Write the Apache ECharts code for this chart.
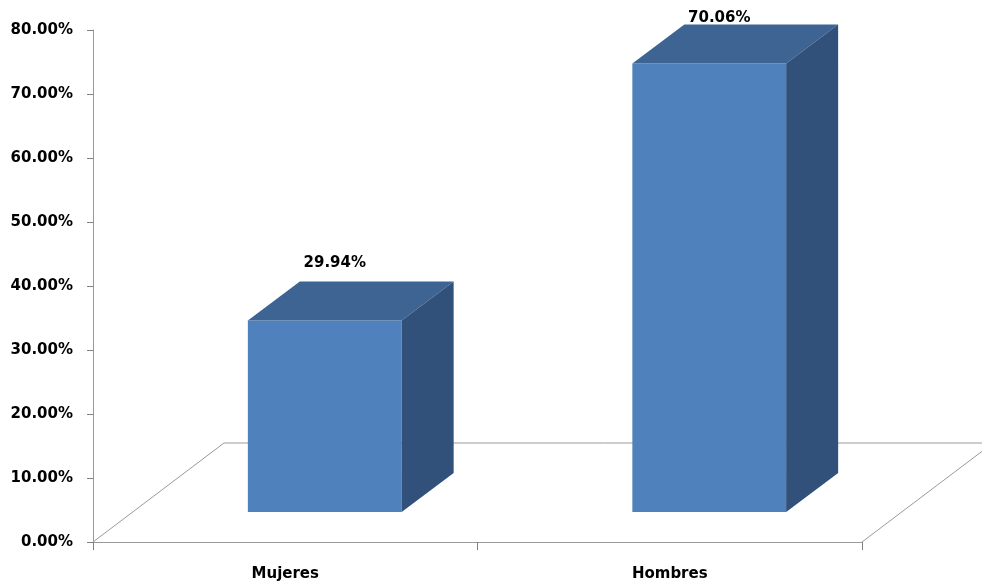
<!DOCTYPE html>
<html lang="es">
<head>
  <meta charset="UTF-8">
  <title>Mujeres / Hombres</title>
  <style>
    * { margin: 0; padding: 0; }
    html, body { background: #ffffff; }
    #main { width: 982px; height: 586px; }
  </style>
</head>
<body>
  <div id="main"></div>

  <script src="https://cdn.jsdelivr.net/npm/echarts@6/dist/echarts.min.js"></script>
  <script type="text/javascript">
  // datos del grafico
  var categorias = ['Mujeres', 'Hombres'];
  var porcentajes = [29.94, 70.06];
  var ejeMin = 0;
  var ejeMax = 80;
  var ejeIntervalo = 10;

  // aspecto 3D (pixeles)
  var FONDO_DX = 131, FONDO_DY = -99;   // profundidad del suelo
  var BARRA_DX = 52, BARRA_DY = -39;    // profundidad de cada barra
  var colorFrente = '#4f81bd';
  var colorTapa = '#3d6493';
  var colorLado = '#31507a';
  var colorLinea = '#9a9a9a';
  var fuente = 'DejaVu Sans';

  var myChart = echarts.init(document.getElementById('main'));

  function renderBarra(params, api) {
    var idx = api.value(0);
    var val = api.value(1);
    var base = api.coord([idx, 0]);
    var tope = api.coord([idx, val]);
    var banda = api.size([1, 0])[0];
    var ancho = banda * 0.4;

    // la barra va centrada en la profundidad del suelo
    var ox = (FONDO_DX - BARRA_DX) / 2;
    var oy = (FONDO_DY - BARRA_DY) / 2;
    var x0 = base[0] - ancho / 2 + ox;
    var x1 = x0 + ancho;
    var yb = base[1] + oy;
    var yt = tope[1] + oy;

    var hijos = [];

    if (params.dataIndex === 0) {
      // suelo: diagonal izquierda, borde de fondo y diagonal derecha
      var izq = base[0] - banda / 2;
      var der = izq + banda * categorias.length;
      var y0 = base[1];
      var lineas = [
        [izq, y0, izq + FONDO_DX, y0 + FONDO_DY],
        [izq + FONDO_DX, y0 + FONDO_DY, der + FONDO_DX, y0 + FONDO_DY],
        [der, y0, der + FONDO_DX, y0 + FONDO_DY]
      ];
      lineas.forEach(function (l) {
        hijos.push({
          type: 'line',
          shape: { x1: l[0], y1: l[1], x2: l[2], y2: l[3] },
          style: { stroke: colorLinea, lineWidth: 1 }
        });
      });
    }

    // cara frontal
    hijos.push({
      type: 'polygon',
      shape: { points: [[x0, yb], [x1, yb], [x1, yt], [x0, yt]] },
      style: { fill: colorFrente }
    });
    // tapa
    hijos.push({
      type: 'polygon',
      shape: { points: [[x0, yt], [x1, yt], [x1 + BARRA_DX, yt + BARRA_DY], [x0 + BARRA_DX, yt + BARRA_DY]] },
      style: { fill: colorTapa }
    });
    // lado derecho
    hijos.push({
      type: 'polygon',
      shape: { points: [[x1, yb], [x1 + BARRA_DX, yb + BARRA_DY], [x1 + BARRA_DX, yt + BARRA_DY], [x1, yt]] },
      style: { fill: colorLado }
    });
    // etiqueta del valor
    hijos.push({
      type: 'text',
      style: {
        text: val.toFixed(2) + '%',
        x: (x0 + x1) / 2 + 10,
        y: Math.max(yt - 57, 18),
        align: 'center',
        verticalAlign: 'middle',
        fill: '#000000',
        font: 'bold 15px "' + fuente + '"'
      }
    });

    return { type: 'group', children: hijos };
  }

  var datos = porcentajes.map(function (v, i) { return [i, v]; });

  var option = {
    animation: false,
    backgroundColor: '#ffffff',
    grid: { left: 93, right: 120, top: 30, bottom: 44 },
    xAxis: {
      type: 'category',
      data: categorias,
      axisLine: { show: true, lineStyle: { color: colorLinea, width: 1 } },
      axisTick: { show: true, alignWithLabel: false, length: 8, lineStyle: { color: '#808080' } },
      axisLabel: {
        margin: 25,
        color: '#000000',
        fontFamily: fuente,
        fontWeight: 'bold',
        fontSize: 15
      },
      splitLine: { show: false }
    },
    yAxis: {
      type: 'value',
      min: ejeMin,
      max: ejeMax,
      interval: ejeIntervalo,
      axisLine: { show: true, lineStyle: { color: colorLinea, width: 1 } },
      axisTick: { show: true, length: 6, lineStyle: { color: '#808080' } },
      axisLabel: {
        margin: 20,
        color: '#000000',
        fontFamily: fuente,
        fontWeight: 'bold',
        fontSize: 15,
        formatter: function (v) { return v.toFixed(2) + '%'; }
      },
      splitLine: { show: false }
    },
    series: [{
      type: 'custom',
      renderItem: renderBarra,
      clip: false,
      encode: { x: 0, y: 1 },
      data: datos
    }]
  };

  myChart.setOption(option);
  </script>
</body>
</html>
